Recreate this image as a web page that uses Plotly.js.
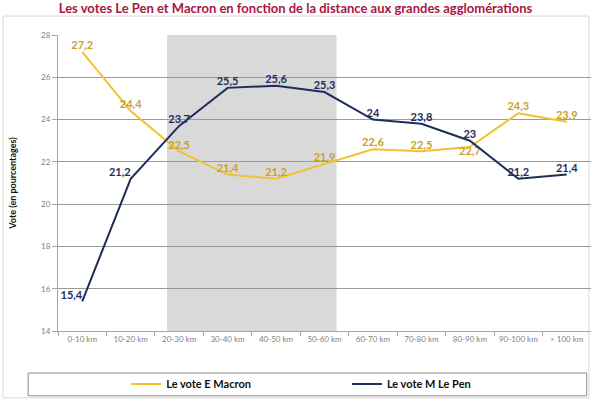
<!DOCTYPE html>
<html>
<head>
<meta charset="utf-8">
<script src="https://cdn.plot.ly/plotly-3.0.1.min.js"></script>
<style>html,body{margin:0;padding:0;background:#fff;}#chart{width:591px;height:402px;}</style>
</head>
<body>
<div id="chart"></div>
<script>
const categories = ['0-10 km','10-20 km','20-30 km','30-40 km','40-50 km','50-60 km','60-70 km','70-80 km','80-90 km','90-100 km','> 100 km'];
const macron = [27.2, 24.4, 22.5, 21.4, 21.2, 21.9, 22.6, 22.5, 22.7, 24.3, 23.9];
const lepen  = [15.4, 21.2, 23.7, 25.5, 25.6, 25.3, 24, 23.8, 23, 21.2, 21.4];
const yTicks = [14, 16, 18, 20, 22, 24, 26, 28];
const shadeStartCat = '20-30 km';
const shadeEndCat = '50-60 km';

const fmt = v => String(v).replace('.', ',');
const macronPos = macron.map((v, i) => i === 8 ? 'bottom center' : 'top center');
const lepenPos = lepen.map((v, i) => (i === 0 || i === 1) ? 'top left' : 'top center');

const legendFont = {family: 'Lato, sans-serif', size: 11, color: '#111111', weight: 'bold'};

const traces = [
  {
    x: categories, y: macron, name: 'Le vote E Macron', type: 'scatter', mode: 'lines+text',
    line: {color: '#f2c230', width: 2},
    text: macron.map(fmt), textposition: macronPos,
    textfont: {family: 'Lato, sans-serif', size: 11, color: '#c9a128', weight: 'bold'},
    cliponaxis: false, hoverinfo: 'skip', legend: 'legend'
  },
  {
    x: categories, y: lepen, name: 'Le vote M Le Pen', type: 'scatter', mode: 'lines+text',
    line: {color: '#1f2d5c', width: 2},
    text: lepen.map(fmt), textposition: lepenPos,
    textfont: {family: 'Lato, sans-serif', size: 11, color: '#1f2d5c', weight: 'bold'},
    cliponaxis: false, hoverinfo: 'skip', legend: 'legend2'
  }
];

const i0 = categories.indexOf(shadeStartCat), i1 = categories.indexOf(shadeEndCat);

const layout = {
  width: 591, height: 402,
  margin: {l: 58, r: 0, t: 35, b: 71},
  paper_bgcolor: '#ffffff', plot_bgcolor: 'rgba(0,0,0,0)',
  font: {family: 'Lato, sans-serif', color: '#7f7f7f'},
  title: {
    text: '<b>Les votes Le Pen et Macron en fonction de la distance aux grandes agglomérations</b>',
    font: {family: 'Lato, sans-serif', size: 13, color: '#a8173f'},
    x: 0.5, xref: 'container', xanchor: 'center', y: 0.978, yref: 'container', yanchor: 'middle'
  },
  showlegend: true,
  legend: {
    orientation: 'h', x: 0.128, xanchor: 'left', y: -0.179, yanchor: 'middle',
    bgcolor: 'rgba(0,0,0,0)', font: legendFont, itemwidth: 30
  },
  legend2: {
    orientation: 'h', x: 0.542, xanchor: 'left', y: -0.179, yanchor: 'middle',
    bgcolor: 'rgba(0,0,0,0)', font: legendFont, itemwidth: 30
  },
  xaxis: {
    type: 'category', range: [-0.5, categories.length - 0.5],
    showgrid: false, showline: true, linecolor: '#a6a6a6', linewidth: 1,
    ticks: 'outside', tickson: 'boundaries', ticklen: 4, tickcolor: '#a6a6a6',
    tickfont: {family: 'Lato, sans-serif', size: 8, color: '#7f7f7f'},
    fixedrange: true, zeroline: false
  },
  yaxis: {
    range: [14, 28], tickvals: yTicks, ticktext: yTicks.map(String),
    showgrid: true, gridcolor: '#9a9a9a', gridwidth: 1,
    showline: true, linecolor: '#a6a6a6', linewidth: 1,
    ticks: 'outside', ticklen: 5, tickcolor: '#a6a6a6',
    tickfont: {family: 'Lato, sans-serif', size: 8, color: '#7f7f7f'},
    title: {text: '<b>Vote (en pourcentages)</b>', font: {family: 'Lato, sans-serif', size: 9, color: '#111111'}, standoff: 22},
    zeroline: false, fixedrange: true
  },
  shapes: [
    {type: 'rect', xref: 'x', yref: 'y', x0: i0 - 0.25, x1: i1 + 0.25, y0: 14, y1: 28,
     fillcolor: '#d9d9d9', line: {width: 0}, layer: 'below'},
    {type: 'rect', xref: 'paper', yref: 'paper', x0: -0.103, x1: 0.996, y0: -0.226, y1: 1.064,
     fillcolor: 'rgba(0,0,0,0)', line: {color: '#d9d9d9', width: 1}, layer: 'below'},
    {type: 'rect', xref: 'paper', yref: 'paper', x0: -0.056, x1: 0.992, y0: -0.219, y1: -0.142,
     fillcolor: 'rgba(0,0,0,0)', line: {color: '#8c8c8c', width: 1}, layer: 'below'}
  ]
};

Plotly.newPlot('chart', traces, layout, {displayModeBar: false, staticPlot: true});
</script>
</body>
</html>
